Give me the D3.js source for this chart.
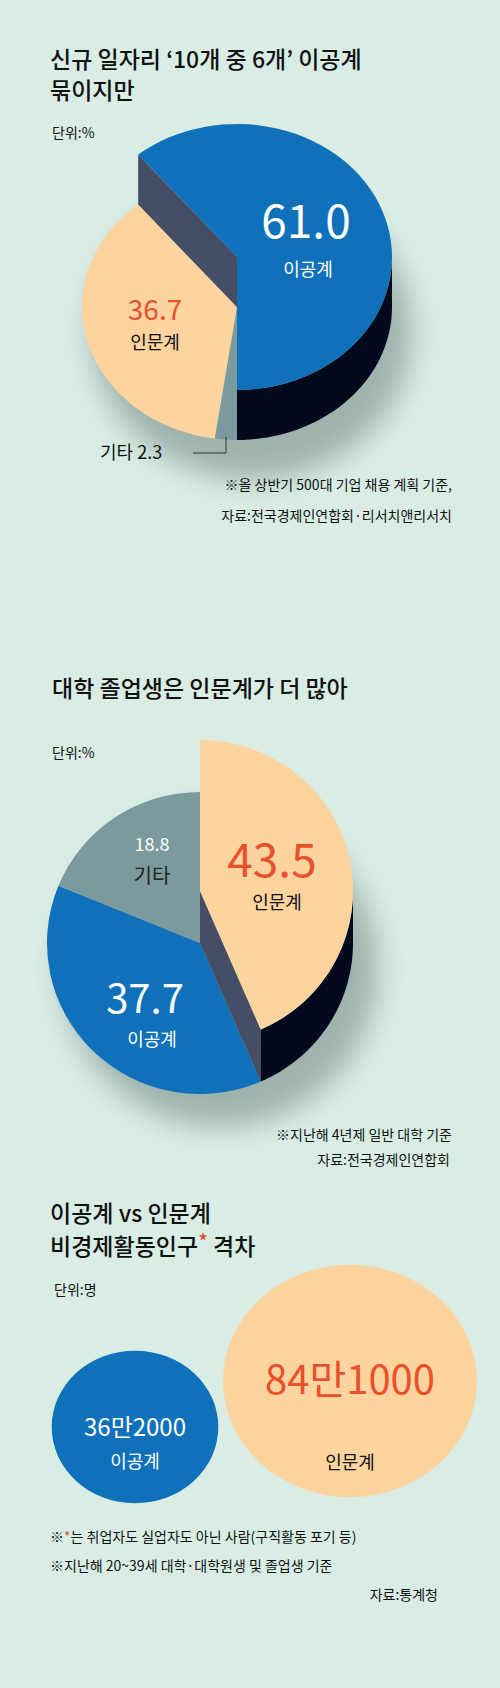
<!DOCTYPE html><html><head><meta charset="utf-8">
<script src="https://cdn.jsdelivr.net/npm/d3@7/dist/d3.min.js"></script>
<style>body{margin:0;background:#d9ede5}svg text{font-family:"Noto Sans CJK KR","Noto Sans",sans-serif}</style></head><body>
<script>
const pie1Cats=["이공계","기타","인문계"], pie1Vals=[61.0,2.3,36.7];
const pie2Cats=["인문계","이공계","기타"], pie2Vals=[43.5,37.7,18.8];
const bubCats=["이공계","인문계"], bubVals=[362000,841000], bubLabels=["36만2000","84만1000"];
const C={blue:"#0f71b9",peach:"#fdd49d",gray:"#7b9a9d",slate:"#464e66",black:"#030a1e",red:"#e9502c"};
const svg=d3.select("body").append("svg").attr("width",500).attr("height",1688);
const defs=svg.append("defs");
defs.append("filter").attr("id","sh").attr("x","-50%").attr("y","-50%").attr("width","200%").attr("height","200%")
 .append("feGaussianBlur").attr("stdDeviation",14);
function txt(x,y,s,size,fill,anchor="start",weight=400){return svg.append("text").attr("x",x).attr("y",y).attr("font-size",size).attr("fill",fill).attr("text-anchor",anchor).attr("font-weight",weight).text(s);}
function pt(cx,cy,rx,ry,a){return [cx+rx*Math.sin(a),cy-ry*Math.cos(a)];}
function wedge(g,cx,cy,rx,ry,a0,a1,fill){
  const arc=d3.arc().innerRadius(0).outerRadius(rx).startAngle(a0).endAngle(a1);
  g.append("path").attr("d",arc()).attr("fill",fill).attr("transform",`translate(${cx},${cy}) scale(1,${ry/rx})`);
}
function sideArc(g,cx,cy,rx,ry,a0,a1,depth,fill){
  const n=40,p=[];
  for(let i=0;i<=n;i++)p.push(pt(cx,cy,rx,ry,a0+(a1-a0)*i/n));
  for(let i=n;i>=0;i--){const q=pt(cx,cy+depth,rx,ry,a0+(a1-a0)*i/n);p.push(q);}
  g.append("path").attr("d",d3.line()(p)+"Z").attr("fill",fill);
}
function cutFace(g,cx,cy,rx,ry,a,depth,fill){
  const e=pt(cx,cy,rx,ry,a);
  g.append("path").attr("d",d3.line()([[cx,cy],e,[e[0],e[1]+depth],[cx,cy+depth]])+"Z").attr("fill",fill);
}
// ---- Chart 1
txt(50,68,"신규 일자리 ‘10개 중 6개’ 이공계",23,"#111","start",500);
txt(50,99,"묶이지만",23,"#111","start",500);
txt(52,138,"단위:%",14,"#111");
{
 const g=svg.append("g"),cx=237,cy=257,rx=155,ry=133,d=50;
 g.append("ellipse").attr("cx",cx+15).attr("cy",cy+d+25).attr("rx",rx+5).attr("ry",ry+15).attr("fill","#9fb3ad").attr("filter","url(#sh)");
 const arcs=d3.pie().sort(null).startAngle(Math.PI-2*Math.PI*pie1Vals[0]/100).endAngle(3*Math.PI-2*Math.PI*pie1Vals[0]/100)(pie1Vals);
 const cols=[C.blue,C.gray,C.peach];
 wedge(g,cx,cy+d,rx,ry,arcs[1].startAngle,arcs[1].endAngle,cols[1]);
 wedge(g,cx,cy+d,rx,ry,arcs[2].startAngle,arcs[2].endAngle,cols[2]);
 cutFace(g,cx,cy,rx,ry,arcs[0].startAngle,d,C.slate);
 sideArc(g,cx,cy,rx,ry,Math.PI/2,Math.PI,d,C.black);
 g.append("rect").attr("x",cx).attr("y",cy).attr("width",2).attr("height",ry+d).attr("fill",C.black);
 wedge(g,cx,cy,rx,ry,arcs[0].startAngle,arcs[0].endAngle,cols[0]);
 txt(306,238,pie1Vals[0].toFixed(1),46,"#fff","middle");
 txt(308,276,pie1Cats[0],18,"#fff","middle");
 txt(155,320,pie1Vals[2].toFixed(1),28,C.red,"middle");
 txt(155,349,pie1Cats[2],18,"#111","middle");
 txt(100,459,pie1Cats[1]+" "+pie1Vals[1].toFixed(1),18,"#111");
 g.append("path").attr("d","M193,453H226V437").attr("fill","none").attr("stroke","#333").attr("stroke-width",1);
}
txt(452,490,"※올 상반기 500대 기업 채용 계획 기준,",14,"#111","end");
txt(452,521,"자료:전국경제인연합회·리서치앤리서치",14,"#111","end");
// ---- Chart 2
txt(52,697,"대학 졸업생은 인문계가 더 많아",23,"#111","start",500);
txt(52,758,"단위:%",14,"#111");
{
 const g=svg.append("g"),cx=200,cy=891,rx=153,ry=151,d=52;
 g.append("ellipse").attr("cx",cx+20).attr("cy",cy+d+25).attr("rx",rx+5).attr("ry",ry+8).attr("fill","#9fb3ad").attr("filter","url(#sh)");
 const arcs=d3.pie().sort(null)(pie2Vals);
 const cols=[C.peach,C.blue,C.gray];
 wedge(g,cx,cy+d,rx,ry,arcs[1].startAngle,arcs[1].endAngle,cols[1]);
 wedge(g,cx,cy+d,rx,ry,arcs[2].startAngle,arcs[2].endAngle,cols[2]);
 cutFace(g,cx,cy,rx,ry,arcs[0].endAngle,d,C.slate);
 sideArc(g,cx,cy,rx,ry,Math.PI/2,arcs[0].endAngle,d,C.black);
 wedge(g,cx,cy,rx,ry,arcs[0].startAngle,arcs[0].endAngle,cols[0]);
 txt(272,877,pie2Vals[0].toFixed(1),46,C.red,"middle");
 txt(277,909,pie2Cats[0],18,"#111","middle");
 txt(152,851,pie2Vals[2].toFixed(1),18,"#fff","middle");
 txt(152,883,pie2Cats[2],20,"#222","middle");
 txt(145,1013,pie2Vals[1].toFixed(1),40,"#fff","middle");
 txt(152,1046,pie2Cats[1],18,"#fff","middle");
}
txt(452,1140,"※지난해 4년제 일반 대학 기준",14,"#111","end");
txt(450,1165,"자료:전국경제인연합회",14,"#111","end");
// ---- Chart 3
txt(50,1222,"이공계 vs 인문계",23,"#111","start",500);
const t3=txt(50,1255,"비경제활동인구",23,"#111","start",500);
t3.append("tspan").attr("fill",C.red).attr("dy",-6).attr("font-size",20).text("*");
t3.append("tspan").attr("dy",6).text(" 격차");
txt(54,1295,"단위:명",14,"#111");
{
 const r=d3.scaleSqrt().domain([0,841000]).range([0,127]);
 const cxs=[135,350],cys=[1427,1381],cols=[C.blue,C.peach];
 bubVals.forEach((v,i)=>svg.append("ellipse").attr("cx",cxs[i]).attr("cy",cys[i]).attr("rx",r(v)).attr("ry",r(v)*0.915).attr("fill",cols[i]));
 txt(135,1436,bubLabels[0],24,"#fff","middle");
 txt(135,1468,bubCats[0],18,"#fff","middle");
 txt(350,1394,bubLabels[1],40,C.red,"middle");
 txt(350,1469,bubCats[1],18,"#111","middle");
}
const n1=txt(50,1542,"※",14,"#111");
n1.append("tspan").attr("fill",C.red).text("*");
n1.append("tspan").text("는 취업자도 실업자도 아닌 사람(구직활동 포기 등)");
txt(50,1571,"※지난해 20~39세 대학·대학원생 및 졸업생 기준",14,"#111");
txt(438,1600,"자료:통계청",14,"#111","end");
</script></body></html>
